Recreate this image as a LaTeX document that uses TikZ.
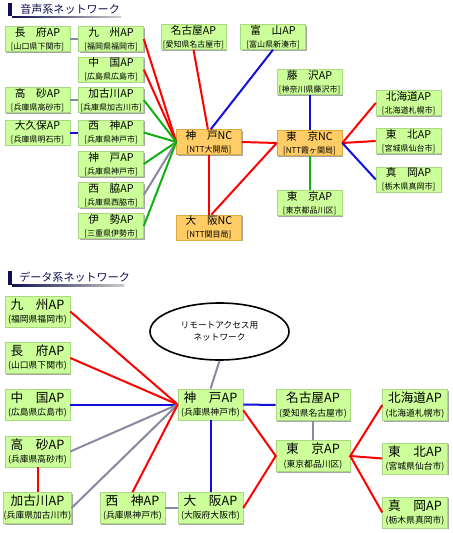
\documentclass[tikz,border=0pt]{standalone}
\usepackage{fontspec}
\setmainfont{Noto Sans CJK JP}
\usetikzlibrary{shapes.geometric,shadows}
\definecolor{lgreen}{HTML}{CCFF99}
\definecolor{lgreenedge}{HTML}{A8D880}
\definecolor{lorange}{HTML}{FFCC66}
\definecolor{orangeedge}{HTML}{E0A840}
\definecolor{cred}{HTML}{FF0000}
\definecolor{cblue}{HTML}{1010D8}
\definecolor{cgreen}{HTML}{10B010}
\definecolor{cgray}{HTML}{8888A0}
\definecolor{navy}{HTML}{101050}
\newcommand\tn[2]{{\fontsize{8}{9}\selectfont #1}\\[-2.5pt]{\fontsize{6}{7}\selectfont #2}}
\newcommand\bn[2]{{\fontsize{9.5}{10.5}\selectfont #1}\\[-2.2pt]{\fontsize{6.6}{7.5}\selectfont #2}}
\tikzset{
  box/.style={rectangle, draw=lgreenedge, fill=lgreen, line width=0.4pt, align=center, inner sep=0pt,
    drop shadow={shadow xshift=1.1pt, shadow yshift=-1.1pt, fill=gray!70, opacity=1}},
  tbox/.style={box, minimum width=48.75pt, minimum height=18.75pt},
  bbox/.style={box, minimum width=48.75pt, minimum height=23.25pt},
  obox/.style={tbox, fill=lorange, draw=orangeedge},
  redl/.style={line width=1.5pt, cred},
  bluel/.style={line width=1.5pt, cblue},
  greenl/.style={line width=1.5pt, cgreen},
  grayl/.style={line width=1.5pt, cgray},
  ttl/.style={anchor=west, inner sep=0pt, text=navy, font=\fontsize{8.3}{10}\selectfont}
}
\begin{document}
\begin{tikzpicture}[x=0.75pt, y=-0.75pt]
\path[use as bounding box, fill=white] (0,0) rectangle (453,533);

% ---------- titles ----------
\fill[navy] (8,3) rectangle (12,16);
\node[ttl] (t1) at (20,9) {音声系ネットワーク};
\shade[left color=navy, right color=gray!40] (12,16) rectangle (121,17.5);
\fill[navy] (8,271) rectangle (12,285);
\node[ttl] (t2) at (19,277) {データ系ネットワーク};
\shade[left color=navy, right color=gray!40] (12,284.5) rectangle (124,286);

% ---------- top network ----------
\node[tbox] (choufuT) at (37.5,39) {\tn{長　府AP}{[山口県下関市]}};
\node[tbox] (kyushuT) at (111,39) {\tn{九　州AP}{[福岡県福岡市]}};
\node[tbox] (chugokuT) at (111,69.5) {\tn{中　国AP}{[広島県広島市]}};
\node[tbox] (takasagoT) at (37.5,100) {\tn{高　砂AP}{[兵庫県高砂市]}};
\node[tbox] (kakogawaT) at (111,100) {\tn{加古川AP}{[兵庫県加古川市]}};
\node[tbox] (okuboT) at (37.5,132.5) {\tn{大久保AP}{[兵庫県明石市]}};
\node[tbox] (seishinT) at (111,132.5) {\tn{西　神AP}{[兵庫県神戸市]}};
\node[tbox] (kobeT) at (111,164) {\tn{神　戸AP}{[兵庫県神戸市]}};
\node[tbox] (nishiwakiT) at (111,195) {\tn{西　脇AP}{[兵庫県西脇市]}};
\node[tbox] (iseT) at (111,226) {\tn{伊　勢AP}{[三重県伊勢市]}};
\node[tbox] (nagoyaT) at (193.5,37) {\tn{名古屋AP}{[愛知県名古屋市]}};
\node[tbox] (toyamaT) at (273,37) {\tn{富　山AP}{[富山県新湊市]}};
\node[tbox] (fujisawaT) at (309.5,82) {\tn{藤　沢AP}{[神奈川県藤沢市]}};
\node[obox] (kobeNC) at (209,142) {\tn{神　戸NC}{[NTT大開局]}};
\node[obox] (osakaNC) at (209,227.5) {\tn{大　阪NC}{[NTT関目局]}};
\node[obox] (tokyoNC) at (309.5,143) {\tn{東　京NC}{[NTT霞ヶ関局]}};
\node[tbox] (tokyoT) at (309.5,203) {\tn{東　京AP}{[東京都品川区]}};
\node[tbox] (hokkaidoT) at (408.5,103) {\tn{北海道AP}{[北海道札幌市]}};
\node[tbox] (tohokuT) at (408.5,141) {\tn{東　北AP}{[宮城県仙台市]}};
\node[tbox] (mokaT) at (408.5,179.5) {\tn{真　岡AP}{[栃木県真岡市]}};

\draw[grayl] (choufuT.east) -- (kyushuT.west);
\draw[grayl] (takasagoT.east) -- (kakogawaT.west);
\draw[bluel] (okuboT.east) -- (seishinT.west);
\draw[redl] (kyushuT.east) -- (kobeNC.west);
\draw[redl] (chugokuT.east) -- (kobeNC.west);
\draw[greenl] (kakogawaT.east) -- (kobeNC.west);
\draw[greenl] (seishinT.east) -- (kobeNC.west);
\draw[greenl] (kobeT.east) -- (kobeNC.west);
\draw[grayl] (nishiwakiT.east) -- (kobeNC.west);
\draw[greenl] (iseT.east) -- (kobeNC.west);
\draw[redl] (nagoyaT.south) -- (kobeNC.95);
\draw[bluel] (toyamaT.south) -- (kobeNC.82);
\draw[redl] (kobeNC.east) -- (tokyoNC.west);
\draw[redl] (kobeNC.south) -- (osakaNC.north);
\draw[redl] (osakaNC.80) -- (tokyoNC.west);
\draw[bluel] (fujisawaT.south) -- (tokyoNC.north);
\draw[greenl] (tokyoNC.south) -- (tokyoT.north);
\draw[redl] (tokyoNC.east) -- (hokkaidoT.west);
\draw[redl] (tokyoNC.east) -- (tohokuT.west);
\draw[bluel] (tokyoNC.east) -- (mokaT.west);

% ---------- bottom network ----------
\node[bbox] (kyushuB) at (37.5,311.5) {\bn{九　州AP}{(福岡県福岡市)}};
\node[bbox] (choufuB) at (37.5,358) {\bn{長　府AP}{(山口県下関市)}};
\node[bbox] (chugokuB) at (37.5,404.5) {\bn{中　国AP}{(広島県広島市)}};
\node[bbox] (takasagoB) at (37.5,451.5) {\bn{高　砂AP}{(兵庫県高砂市)}};
\node[bbox] (kakogawaB) at (37.5,508) {\bn{加古川AP}{(兵庫県加古川市)}};
\node[bbox] (seishinB) at (132.5,508) {\bn{西　神AP}{(兵庫県神戸市)}};
\node[bbox] (kobeB) at (210.5,404.5) {\bn{神　戸AP}{(兵庫県神戸市)}};
\node[bbox] (osakaB) at (210.5,508) {\bn{大　阪AP}{(大阪府大阪市)}};
\node[bbox, minimum width=55.5pt] (nagoyaB) at (313,405) {\bn{名古屋AP}{(愛知県名古屋市)}};
\node[bbox, minimum width=55.5pt] (tokyoB) at (313,456) {\bn{東　京AP}{(東京都品川区)}};
\node[bbox] (hokkaidoB) at (415,405) {\bn{北海道AP}{(北海道札幌市)}};
\node[bbox] (tohokuB) at (415,458.5) {\bn{東　北AP}{(宮城県仙台市)}};
\node[bbox] (mokaB) at (415,512.5) {\bn{真　岡AP}{(栃木県真岡市)}};
\node[ellipse, draw, line width=1.2pt, fill=white, minimum width=104.25pt, minimum height=42.75pt, inner sep=0pt, align=center, font=\fontsize{6.5}{9}\selectfont] (remote) at (219.5,331.5) {リモートアクセス用\\ネットワーク};

\draw[redl] (kyushuB.east) -- (kobeB.west);
\draw[redl] (choufuB.east) -- (kobeB.west);
\draw[bluel] (chugokuB.east) -- (kobeB.west);
\draw[grayl] (takasagoB.east) -- (kobeB.west);
\draw[grayl] (kakogawaB.east) -- (kobeB.west);
\draw[redl] (takasagoB.south) -- (kakogawaB.north);
\draw[redl] (seishinB.north) -- (kobeB.west);
\draw[grayl] (seishinB.east) -- (osakaB.west);
\draw[bluel] (kobeB.south) -- (osakaB.north);
\draw[grayl] (remote.south) -- (kobeB.north);
\draw[bluel] (kobeB.east) -- (nagoyaB.west);
\draw[redl] (kobeB.-10) -- (tokyoB.west) -- (osakaB.east);
\draw[grayl] (nagoyaB.south) -- (tokyoB.north);
\draw[redl] (hokkaidoB.west) -- (tokyoB.east) -- (tohokuB.west);
\draw[redl] (tokyoB.east) -- (mokaB.west);
\end{tikzpicture}
\end{document}
